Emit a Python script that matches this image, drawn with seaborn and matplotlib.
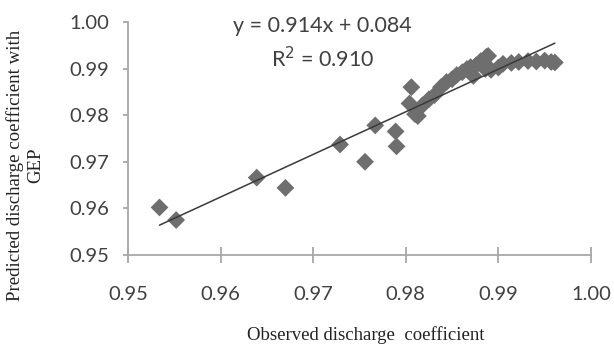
import numpy as np
import pandas as pd
import matplotlib
matplotlib.use("Agg")
import matplotlib.pyplot as plt
import seaborn as sns

# observed vs GEP-predicted discharge coefficient
observed = [0.9534, 0.9552, 0.9639, 0.9670, 0.9729, 0.9756, 0.9767, 0.9789, 0.9790,
            0.9806, 0.9804, 0.9810, 0.9813, 0.9818, 0.9825, 0.9831, 0.9838, 0.9844,
            0.9850, 0.9855, 0.9861, 0.9866, 0.9870, 0.9873, 0.9876, 0.9881, 0.9887,
            0.9889, 0.9886, 0.9892, 0.9900, 0.9905, 0.9914, 0.9922, 0.9932, 0.9941,
            0.9950, 0.9957, 0.9961]
predicted = [0.9602, 0.9575, 0.9666, 0.9644, 0.9737, 0.9700, 0.9778, 0.9765, 0.9733,
             0.9860, 0.9825, 0.9802, 0.9798, 0.9821, 0.9834, 0.9843, 0.9860, 0.9871,
             0.9877, 0.9886, 0.9892, 0.9899, 0.9903, 0.9884, 0.9907, 0.9916, 0.9925,
             0.9927, 0.9899, 0.9897, 0.9902, 0.9910, 0.9912, 0.9914, 0.9916, 0.9915,
             0.9917, 0.9914, 0.9913]

slope = 0.914
intercept = 0.084
r2 = 0.910

ticks = [0.95, 0.96, 0.97, 0.98, 0.99, 1.00]

df = pd.DataFrame({"obs": observed, "pred": predicted})

sns.set_style("white")
plt.rcParams["font.family"] = ["Lato", "DejaVu Sans"]

fig = plt.figure(figsize=(6.14, 3.49), dpi=100)
ax = fig.add_axes([0.2085, 0.2693, 0.754, 0.668])

sns.scatterplot(data=df, x="obs", y="pred", marker="D", s=82, color="#6e6e6e",
                edgecolor="none", ax=ax, zorder=2)

# trend line from the reported equation, over the observed range
xl = np.array([min(observed), max(observed)])
ax.plot(xl, slope * xl + intercept + 0.001, color="#3a3a3a", lw=1.1, zorder=3)

ax.text(0.9710, 0.9991, f"y = {slope:.3f}x + {intercept:.3f}", ha="center", va="center",
        fontsize=15.5, color="#404040")
ax.text(0.9710, 0.9922, f"R$^2$ = {r2:.3f}", ha="center", va="center",
        fontsize=15.5, color="#404040")

ax.set_xlim(0.95, 1.00)
ax.set_ylim(0.95, 1.00)
ax.set_xticks(ticks)
ax.set_yticks(ticks)
ax.set_xticklabels([f"{t:.2f}" for t in ticks])
ax.set_yticklabels([f"{t:.2f}" for t in ticks])
ax.tick_params(axis="both", labelsize=14.5, labelcolor="#404040", color="#a0a0a0",
               width=1.2, bottom=True, left=True)
ax.tick_params(axis="y", direction="out", length=3.5, pad=10)
ax.tick_params(axis="x", direction="inout", length=11, pad=17)

sns.despine(ax=ax)
for s in ["left", "bottom"]:
    ax.spines[s].set_color("#a8a8a8")
    ax.spines[s].set_linewidth(1.3)

ax.set_xlabel("Observed discharge  coefficient", family="Liberation Serif",
              fontsize=13.5, color="#222222")
ax.set_ylabel("Predicted discharge coefficient with\nGEP", family="Liberation Serif",
              fontsize=13.6, color="#222222", linespacing=1.3)
ax.xaxis.set_label_coords(0.514, -0.343)
ax.xaxis.label.set_verticalalignment("center")
ax.yaxis.set_label_coords(-0.222, 0.386)
ax.yaxis.label.set_verticalalignment("center")

fig.savefig("out.png", dpi=100)
